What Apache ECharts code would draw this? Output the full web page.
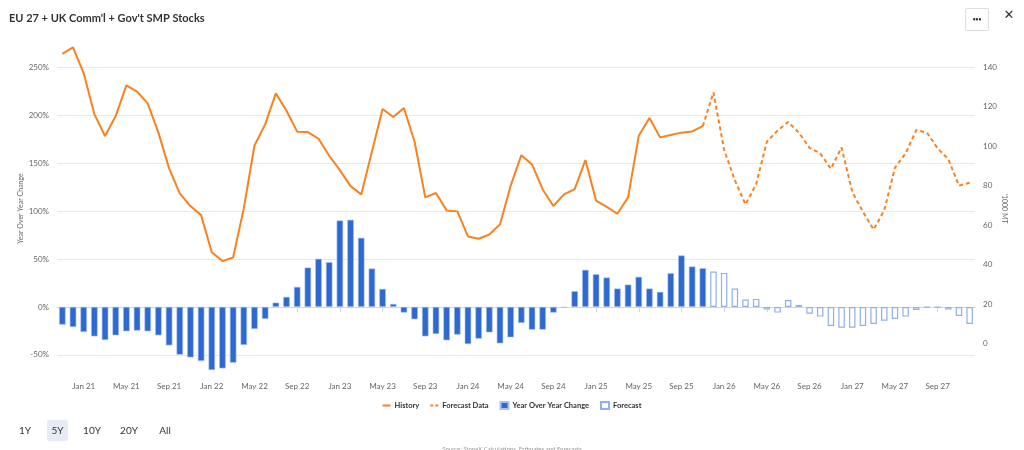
<!DOCTYPE html>
<html>
<head>
<meta charset="utf-8">
<script src="https://cdn.jsdelivr.net/npm/echarts@6/dist/echarts.min.js"></script>
<style>
html,body{margin:0;padding:0;background:#fff;}
#chart{width:1024px;height:450px;}
</style>
</head>
<body>
<div id="chart"></div>
<script>
var categories = [
 'Nov 20','Dec 20',
 'Jan 21','Feb 21','Mar 21','Apr 21','May 21','Jun 21','Jul 21','Aug 21','Sep 21','Oct 21','Nov 21','Dec 21',
 'Jan 22','Feb 22','Mar 22','Apr 22','May 22','Jun 22','Jul 22','Aug 22','Sep 22','Oct 22','Nov 22','Dec 22',
 'Jan 23','Feb 23','Mar 23','Apr 23','May 23','Jun 23','Jul 23','Aug 23','Sep 23','Oct 23','Nov 23','Dec 23',
 'Jan 24','Feb 24','Mar 24','Apr 24','May 24','Jun 24','Jul 24','Aug 24','Sep 24','Oct 24','Nov 24','Dec 24',
 'Jan 25','Feb 25','Mar 25','Apr 25','May 25','Jun 25','Jul 25','Aug 25','Sep 25','Oct 25','Nov 25','Dec 25',
 'Jan 26','Feb 26','Mar 26','Apr 26','May 26','Jun 26','Jul 26','Aug 26','Sep 26','Oct 26','Nov 26','Dec 26',
 'Jan 27','Feb 27','Mar 27','Apr 27','May 27','Jun 27','Jul 27','Aug 27','Sep 27','Oct 27','Nov 27','Dec 27'
];
var tickLabels = ['Jan','May','Sep'];

// Year over year change (%) - history Nov 20 .. Nov 25
var yoyHistory = [
 -18.5,-20.9,
 -26.1,-30.7,-34.5,-29.6,-25.4,-24.7,-25.4,-29.6,-40.1,-49.8,-52.6,-56.4,
 -65.8,-64.1,-58.2,-39.7,-23.0,-12.5,4.5,10.5,20.9,41.1,50.2,46.7,
 90.2,90.9,72.1,40.1,18.8,3.1,-5.9,-12.9,-30.7,-28.2,-34.8,-28.9,
 -38.7,-33.1,-26.5,-38.0,-31.7,-16.7,-23.7,-23.7,-5.9,-0.7,16.4,38.7,
 34.1,30.7,19.2,23.3,31.4,19.2,15.7,35.2,53.7,42.2,40.4
];
// Year over year change (%) - forecast Dec 25 .. Dec 27
var yoyForecast = [
 36.9,
 35.5,19.2,7.7,8.4,-2.8,-5.9,7.3,2.1,-7.0,-10.1,-19.9,-21.6,
 -21.6,-19.9,-17.8,-14.3,-12.5,-10.1,-3.1,-0.5,-0.5,-2.8,-9.4,-17.8
];
// Stocks ('000 MT) - history Nov 20 .. Nov 25
var stocksHistory = [
 146.8,150.1,
 137.0,116.3,105.2,115.3,130.9,127.7,121.7,106.9,88.8,76.1,69.7,65.1,
 46.3,41.8,43.6,68.5,100.4,111.1,126.8,118.0,107.4,107.2,103.8,95.2,
 87.9,79.8,75.6,97.2,118.9,114.8,119.4,102.3,74.1,76.3,67.5,67.0,
 54.3,53.1,55.3,60.4,80.0,95.5,90.8,78.1,69.7,75.6,78.3,93.0,
 72.5,69.3,65.8,74.1,105.3,114.3,104.5,105.7,106.9,107.5,110.2
];
// Stocks ('000 MT) - forecast Dec 25 .. Dec 27
var stocksForecast = [
 127.3,
 98.1,82.8,70.5,80.8,102.3,107.9,112.3,106.9,99.2,96.4,88.6,99.4,
 76.9,66.8,57.8,67.6,89.1,96.4,108.2,106.9,98.9,93.5,80.0,81.5
];

var nH = yoyHistory.length;
var nF = yoyForecast.length;
function pad(n){ var a=[]; for(var i=0;i<n;i++) a.push(null); return a; }
var barHist = yoyHistory.concat(pad(nF));
var barFc = pad(nH).concat(yoyForecast);
var lineHist = stocksHistory.concat(pad(nF));
var lineFc = pad(nH-1).concat([stocksHistory[nH-1]]).concat(stocksForecast);

function isTick(idx, val){
  var v = (typeof val === 'string') ? val : categories[idx];
  return tickLabels.indexOf(v.split(' ')[0]) >= 0;
}

var FONT = 'Lato, "Open Sans", sans-serif';
var ORANGE = '#f7821f';
var BLUE = '#2d69ce';
var LIGHTBLUE = '#8fb0ea';

var chart = echarts.init(document.getElementById('chart'), null, {renderer:'canvas'});
chart.setOption({
  animation:false,
  textStyle:{fontFamily:FONT},
  title:{
    text:"EU 27 + UK Comm'l + Gov't SMP Stocks",
    left:4, top:8,
    textStyle:{fontSize:11, fontWeight:'bold', color:'#333333', fontFamily:FONT}
  },
  legend:{
    top:396, left:'center',
    itemWidth:8, itemHeight:7, itemGap:11,
    symbolKeepAspect:true,
    textStyle:{fontSize:7.5, fontWeight:'bold', color:'#333333', fontFamily:FONT, padding:[0,0,0,-1]},
    data:[
      {name:'History', icon:'path://M0,0h8v2h-8z'},
      {name:'Forecast Data', icon:'path://M0,0h3v2h-3zM5,0h3v2h-3z'},
      {name:'Year Over Year Change', icon:'rect'},
      {name:'Forecast', icon:'rect'}
    ]
  },
  grid:{left:57, right:49, top:40, bottom:73, containLabel:false},
  xAxis:{
    type:'category',
    data:categories,
    boundaryGap:true,
    axisLine:{lineStyle:{color:'#ccd6eb', width:1}},
    axisTick:{show:true, alignWithLabel:true, interval:isTick, length:5, lineStyle:{color:'#ccd6eb'}},
    axisLabel:{interval:isTick, color:'#666666', fontSize:8, margin:5, fontFamily:FONT},
    splitLine:{show:false}
  },
  yAxis:[
    {
      type:'value', position:'left',
      min:-73.1, max:278.5, splitNumber:7,
      name:'Year Over Year Change', nameLocation:'middle', nameGap:33, nameMoveOverlap:false,
      nameTextStyle:{fontSize:7, color:'#666666', fontFamily:FONT},
      axisLine:{show:false}, axisTick:{show:false},
      axisLabel:{formatter:'{value}%', color:'#666666', fontSize:8, margin:8, showMinLabel:false, showMaxLabel:false, fontFamily:FONT},
      splitLine:{show:true, showMinLine:false, showMaxLine:false, lineStyle:{color:'#e9e9e9', width:1}}
    },
    {
      type:'value', position:'right',
      min:-16.94, max:153.85, splitNumber:8,
      name:"'1000 MT", nameLocation:'middle', nameGap:26, nameRotate:-90, nameMoveOverlap:false,
      nameTextStyle:{fontSize:7, color:'#666666', fontFamily:FONT},
      axisLine:{show:false}, axisTick:{show:false},
      axisLabel:{color:'#666666', fontSize:8, margin:8, showMinLabel:false, showMaxLabel:false, fontFamily:FONT},
      splitLine:{show:false}
    }
  ],
  series:[
    {
      name:'Year Over Year Change', type:'bar', yAxisIndex:0, xAxisIndex:0,
      data:barHist, barWidth:6.5, barGap:'-100%',
      itemStyle:{color:BLUE, borderColor:'#a9c1ee', borderWidth:0.6},
      z:2
    },
    {
      name:'Forecast', type:'bar', yAxisIndex:0, xAxisIndex:0,
      data:barFc, barWidth:6.5, barGap:'-100%',
      itemStyle:{color:'#ffffff', borderColor:LIGHTBLUE, borderWidth:1.2},
      z:2
    },
    {
      name:'History', type:'line', yAxisIndex:1,
      data:lineHist, symbol:'none', showSymbol:false, connectNulls:false,
      lineStyle:{color:ORANGE, width:2}, itemStyle:{color:ORANGE},
      z:3
    },
    {
      name:'Forecast Data', type:'line', yAxisIndex:1,
      data:lineFc, symbol:'none', showSymbol:false, connectNulls:false,
      lineStyle:{color:ORANGE, width:2, type:[4,3]}, itemStyle:{color:ORANGE},
      z:3
    }
  ],
  graphic:[
    {type:'rect', shape:{x:47, y:420, width:21, height:21, r:2}, style:{fill:'#e6ebf5'}},
    {type:'text', x:25, y:431, style:{text:'1Y', fill:'#333333', font:'10px '+FONT, textAlign:'center', textVerticalAlign:'middle'}},
    {type:'text', x:57.5, y:431, style:{text:'5Y', fill:'#333333', font:'10px '+FONT, textAlign:'center', textVerticalAlign:'middle'}},
    {type:'text', x:92, y:431, style:{text:'10Y', fill:'#333333', font:'10px '+FONT, textAlign:'center', textVerticalAlign:'middle'}},
    {type:'text', x:129, y:431, style:{text:'20Y', fill:'#333333', font:'10px '+FONT, textAlign:'center', textVerticalAlign:'middle'}},
    {type:'text', x:165, y:431, style:{text:'All', fill:'#333333', font:'10px '+FONT, textAlign:'center', textVerticalAlign:'middle'}},
    {type:'rect', shape:{x:965.5, y:8.5, width:23, height:22, r:1}, style:{fill:'#ffffff', stroke:'#dddddd', lineWidth:1}},
    {type:'text', x:977, y:19, style:{text:'•••', fill:'#333333', font:'bold 5px '+FONT, textAlign:'center', textVerticalAlign:'middle'}},
    {type:'text', x:1009, y:16, style:{text:'✕', fill:'#333333', font:'13px "DejaVu Sans", sans-serif', textAlign:'center', textVerticalAlign:'middle'}},
    {type:'text', x:512, y:449, style:{text:'Source: StoneX Calculations, Estimates and Forecasts', fill:'#999999', font:'6px '+FONT, textAlign:'center', textVerticalAlign:'middle'}}
  ]
});
</script>
</body>
</html>
